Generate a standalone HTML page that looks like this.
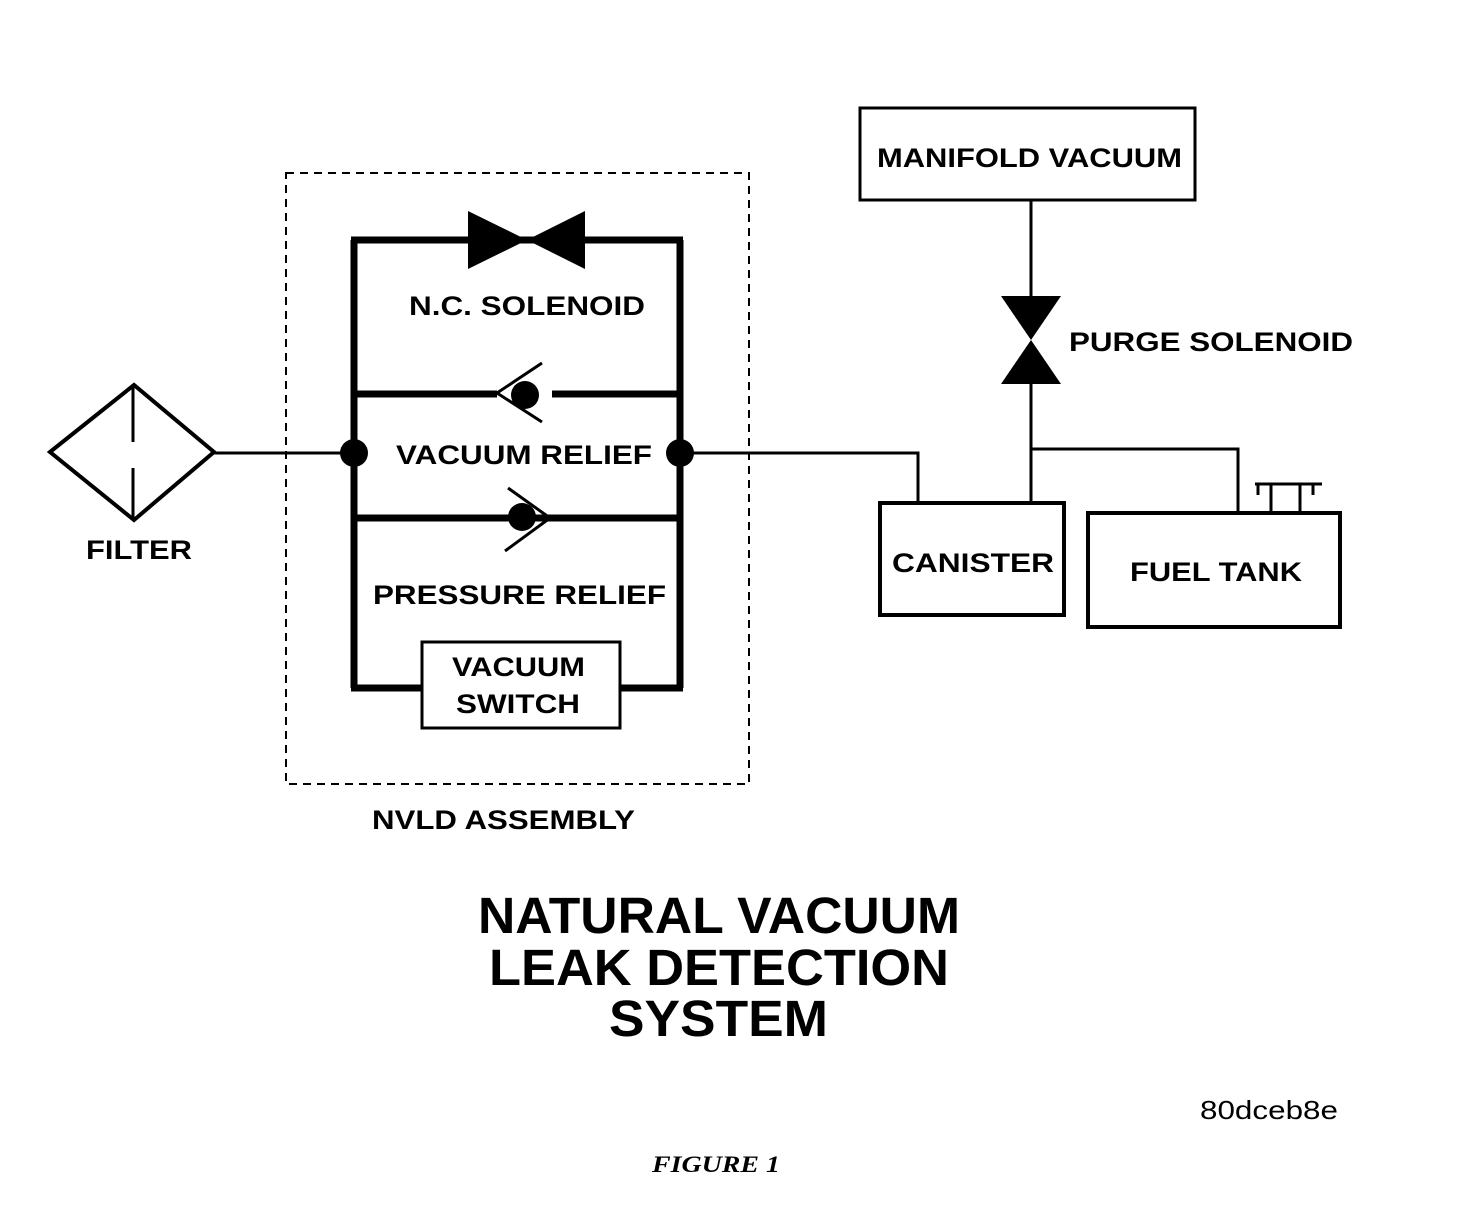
<!DOCTYPE html>
<html><head><meta charset="utf-8"><style>
html,body{margin:0;padding:0;background:#fff}
svg{display:block}
text{font-family:"Liberation Sans",sans-serif;font-weight:bold;fill:#000}
</style></head><body>
<svg width="1472" height="1220" viewBox="0 0 1472 1220" xmlns="http://www.w3.org/2000/svg">
<!-- dashed NVLD box -->
<rect x="286" y="173" width="463" height="611" fill="none" stroke="#000" stroke-width="2" stroke-dasharray="8,6"/>
<!-- outer loop -->
<g stroke="#000" stroke-width="7" fill="none">
<line x1="354" y1="240" x2="354" y2="688"/>
<line x1="680" y1="240" x2="680" y2="688"/>
<line x1="351" y1="240" x2="683" y2="240"/>
<line x1="351" y1="688" x2="421" y2="688"/>
<line x1="620" y1="688" x2="683" y2="688"/>
<line x1="354" y1="394" x2="497" y2="394"/>
<line x1="552" y1="394" x2="683" y2="394"/>
<line x1="354" y1="518" x2="683" y2="518"/>
</g>
<!-- NC solenoid bowtie -->
<polygon points="468,211 468,269 527,240" fill="#000"/>
<polygon points="585,211 585,269 527,240" fill="#000"/>
<!-- vacuum relief check valve -->
<circle cx="525" cy="395" r="14" fill="#000"/>
<g stroke="#000" stroke-width="3">
<line x1="497" y1="393" x2="542" y2="363"/>
<line x1="497" y1="393" x2="542" y2="422"/>
</g>
<!-- pressure relief check valve -->
<circle cx="522" cy="517" r="14" fill="#000"/>
<g stroke="#000" stroke-width="3">
<line x1="550" y1="518" x2="508" y2="488"/>
<line x1="550" y1="518" x2="505" y2="551"/>
</g>
<!-- junction dots -->
<circle cx="354" cy="453" r="14" fill="#000"/>
<circle cx="680" cy="453" r="14" fill="#000"/>
<!-- vacuum switch -->
<rect x="422" y="642" width="198" height="86" fill="#fff" stroke="#000" stroke-width="3"/>
<!-- filter -->
<polygon points="50,452 134,385 214,452 134,520" fill="none" stroke="#000" stroke-width="4"/>
<line x1="133" y1="385" x2="133" y2="442" stroke="#000" stroke-width="3"/>
<line x1="133" y1="468" x2="133" y2="520" stroke="#000" stroke-width="3"/>
<g stroke="#000" stroke-width="3" fill="none">
<line x1="214" y1="453" x2="354" y2="453"/>
<polyline points="680,453 918,453 918,503"/>
<line x1="1031" y1="200" x2="1031" y2="300"/>
<line x1="1031" y1="380" x2="1031" y2="503"/>
<polyline points="1031,449 1238,449 1238,512"/>
<line x1="1255" y1="484" x2="1322" y2="484"/>
<line x1="1258" y1="484" x2="1258" y2="495"/>
<line x1="1271" y1="484" x2="1271" y2="512"/>
<line x1="1300" y1="484" x2="1300" y2="512"/>
<line x1="1313" y1="484" x2="1313" y2="495"/>
</g>
<!-- purge solenoid -->
<polygon points="1001,296 1061,296 1031,340" fill="#000"/>
<polygon points="1001,384 1061,384 1031,340" fill="#000"/>
<!-- boxes -->
<rect x="860" y="108" width="335" height="92" fill="none" stroke="#000" stroke-width="3"/>
<rect x="880" y="503" width="184" height="112" fill="none" stroke="#000" stroke-width="4"/>
<rect x="1088" y="513" width="252" height="114" fill="none" stroke="#000" stroke-width="4"/>
<!-- labels -->
<text x="409" y="315" font-size="27" textLength="236" lengthAdjust="spacingAndGlyphs">N.C. SOLENOID</text>
<text x="396" y="464" font-size="27" textLength="256" lengthAdjust="spacingAndGlyphs">VACUUM RELIEF</text>
<text x="373" y="604" font-size="27" textLength="293" lengthAdjust="spacingAndGlyphs">PRESSURE RELIEF</text>
<text x="452" y="676" font-size="27" textLength="133" lengthAdjust="spacingAndGlyphs">VACUUM</text>
<text x="456" y="713" font-size="27" textLength="124" lengthAdjust="spacingAndGlyphs">SWITCH</text>
<text x="86" y="559" font-size="27" textLength="106" lengthAdjust="spacingAndGlyphs">FILTER</text>
<text x="372" y="829" font-size="27" textLength="263" lengthAdjust="spacingAndGlyphs">NVLD ASSEMBLY</text>
<text x="877" y="167" font-size="27" textLength="305" lengthAdjust="spacingAndGlyphs">MANIFOLD VACUUM</text>
<text x="1069" y="351" font-size="27" textLength="284" lengthAdjust="spacingAndGlyphs">PURGE SOLENOID</text>
<text x="892" y="572" font-size="27" textLength="162" lengthAdjust="spacingAndGlyphs">CANISTER</text>
<text x="1130" y="581" font-size="27" textLength="172" lengthAdjust="spacingAndGlyphs">FUEL TANK</text>
<text x="478" y="933" font-size="51" textLength="482" lengthAdjust="spacingAndGlyphs">NATURAL VACUUM</text>
<text x="489" y="985" font-size="51" textLength="460" lengthAdjust="spacingAndGlyphs">LEAK DETECTION</text>
<text x="609" y="1036" font-size="51" textLength="219" lengthAdjust="spacingAndGlyphs">SYSTEM</text>
<text x="1200" y="1119" font-size="26" font-weight="normal" style="font-weight:normal" textLength="138" lengthAdjust="spacingAndGlyphs">80dceb8e</text>
<text x="652" y="1172" font-size="23" style="font-family:'Liberation Serif',serif;font-style:italic" textLength="128" lengthAdjust="spacingAndGlyphs">FIGURE 1</text>
</svg>
</body></html>
